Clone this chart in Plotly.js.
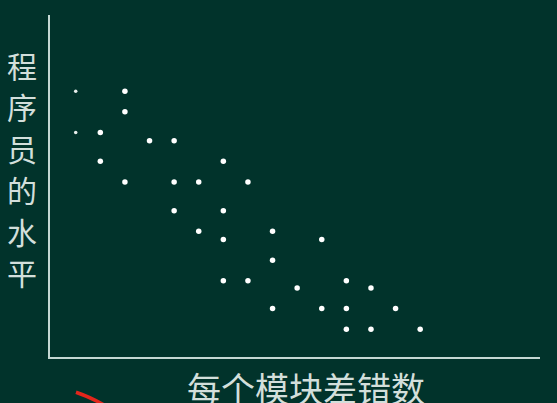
<!DOCTYPE html>
<html>
<head>
<meta charset="utf-8">
<script src="https://cdn.plot.ly/plotly-3.0.1.min.js"></script>
<style>
  html, body { margin: 0; padding: 0; background: #01332b; }
  #chart { width: 557px; height: 403px; }
</style>
</head>
<body>
<div id="chart"></div>
<script>
// errors per module vs. programmer level (no numeric scale in the original)
const errX = [3, 3, 2, 4, 5, 2, 7, 3, 5, 6, 8, 5, 7, 6, 9, 7, 11, 9, 7, 8, 12, 10, 13, 9, 11, 12, 14, 12, 13, 15];
const levelY = [12.9, 11.9, 10.9, 10.5, 10.5, 9.5, 9.5, 8.5, 8.5, 8.5, 8.5, 7.1, 7.1, 6.1, 6.1, 5.7, 5.7, 4.7, 3.7, 3.7, 3.7, 3.35, 3.35, 2.35, 2.35, 2.35, 2.35, 1.35, 1.35, 1.35];
// two faint points at the far left
const faintX = [1, 1];
const faintY = [12.9, 10.9];

const yTitle = ['程', '序', '员', '的', '水', '平'];
const xTitle = '每个模块差错数';

const ink = '#d3dfdb';
const font = 'Noto Sans CJK SC, sans-serif';

// vertical title: one annotation per character, stacked
const yChars = yTitle.map((ch, i) => ({
  text: ch, xref: 'paper', yref: 'paper',
  x: -28 / 490, y: (357 - 65 - i * 41.4) / 342, xanchor: 'center', yanchor: 'middle',
  showarrow: false, font: {family: font, size: 30, color: ink},
}));

Plotly.newPlot('chart', [
  {
    type: 'scatter', mode: 'markers', x: errX, y: levelY,
    marker: {color: '#ffffff', size: 5.5}, hoverinfo: 'skip',
  },
  {
    type: 'scatter', mode: 'markers', x: faintX, y: faintY,
    marker: {color: '#e8eeec', size: 3.5}, hoverinfo: 'skip',
  },
], {
  width: 557, height: 403,
  margin: {l: 50, r: 17, t: 15, b: 46},
  paper_bgcolor: '#01332b', plot_bgcolor: '#01332b',
  showlegend: false,
  xaxis: {
    range: [-0.045, 19.87], showline: true, linecolor: '#c4d8d3', linewidth: 2,
    showgrid: false, zeroline: false, showticklabels: false, ticks: '',
  },
  yaxis: {
    range: [0, 16.6], showline: true, linecolor: '#c4d8d3', linewidth: 2,
    showgrid: false, zeroline: false, showticklabels: false, ticks: '',
  },
  annotations: yChars.concat([
    {
      text: xTitle, xref: 'paper', yref: 'paper',
      x: (306 - 50) / 490, y: (357 - 388) / 342, xanchor: 'center', yanchor: 'middle',
      showarrow: false, font: {family: font, size: 34, color: ink},
    },
  ]),
  shapes: [
    {
      type: 'path', xref: 'paper', yref: 'paper',
      path: 'M 0.053 -0.103 Q 0.08 -0.116 0.11 -0.14',
      line: {color: '#e3261c', width: 3.5},
    },
  ],
}, {displayModeBar: false, staticPlot: true});
</script>
</body>
</html>
